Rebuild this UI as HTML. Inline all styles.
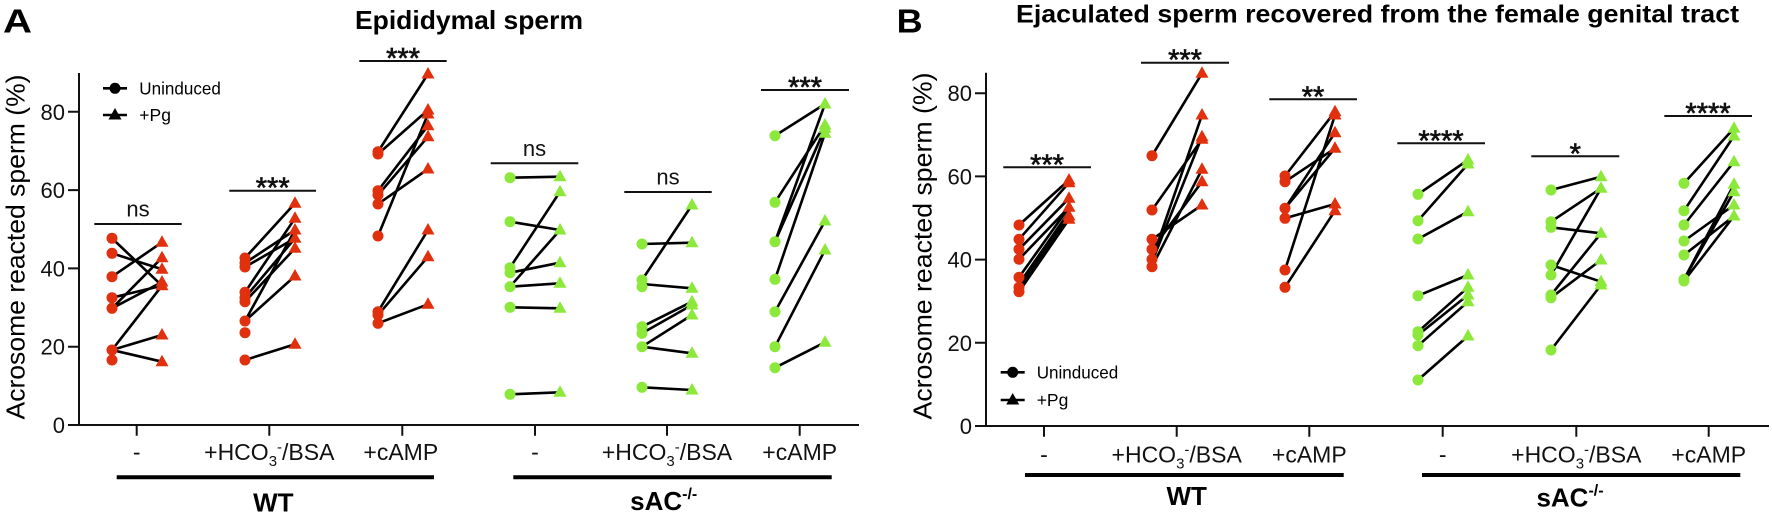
<!DOCTYPE html>
<html><head><meta charset="utf-8"><style>
html,body{margin:0;padding:0;background:#fff;}
svg{display:block;font-family:"Liberation Sans",Arial,sans-serif;}
</style></head><body>
<svg width="1772" height="515" viewBox="0 0 1772 515" xmlns="http://www.w3.org/2000/svg">
<rect width="1772" height="515" fill="#fff"/>

<!-- ================= PANEL A ================= -->
<text x="3" y="32.3" font-size="33" font-weight="bold" textLength="29" lengthAdjust="spacingAndGlyphs">A</text>
<text x="469" y="29" font-size="26" font-weight="bold" text-anchor="middle" textLength="228" lengthAdjust="spacingAndGlyphs">Epididymal sperm</text>
<text transform="translate(24.3,247) rotate(-90)" font-size="26" text-anchor="middle" textLength="345" lengthAdjust="spacingAndGlyphs">Acrosome reacted sperm (%)</text>

<g stroke="#111" stroke-width="2" fill="none">
<path d="M79 73V425H859"/>
<path d="M68 425H79M68 346.7H79M68 268.4H79M68 190.1H79M68 111.8H79"/>
<path d="M136.7 425V435.7M269.3 425V435.7M402.3 425V435.7M535 425V435.7M667 425V435.7M799.7 425V435.7"/>
<path d="M94.3 224H181.7M229.3 190.7H316M359.3 61H446.7M490.7 163.3H578.3M624.3 192H711.7M761 90H849"/>
</g>
<g font-size="22" text-anchor="end" fill="#111">
<text x="65" y="433">0</text><text x="65" y="354.7">20</text><text x="65" y="276.4">40</text><text x="65" y="198.1">60</text><text x="65" y="119.8">80</text>
</g>

<!-- data lines A -->
<path stroke="#000" stroke-width="2.6" fill="none" d="
M112 238.3L162 285.7M112 253.3L162 269.3M112 276.7L162 242.3M112 297.7L162 285.7M112 308.3L162 257.7M112 308.3L162 282M112 350L162 285.7M112 350L162 335M112 350L162 361.7
M245 258L295 203.3M245 263L295 230M245 267L295 238.3M245 292.3L295 218.3M245 297.7L295 238.3M245 301.7L295 248.3M245 321L295 276M245 321L295 230M245 360L295 344.3
M378 151.7L428 74M378 154L428 110M378 190.7L428 125.7M378 195L428 136.7M378 204L428 169M378 236L428 114M378 311.7L428 230M378 315L428 256.7M378 323.3L428 304.3
M510 177.7L560 176.7M510 221.7L560 230M510 267.7L560 191.7M510 272.7L560 262.7M510 286.7L560 230M510 286.7L560 283.3M510 307.3L560 308.3M510 394.3L560 392.3
M642 244L692 242.7M642 280L692 205M642 284L692 288.3M642 326.7L692 301.7M642 333.3L692 305M642 346.7L692 315M642 346.7L692 353.3M642 387.3L692 390
M775 135.7L825 104M775 202.3L825 125M775 241.7L825 104M775 241.7L825 128.3M775 279.3L825 133.3M775 311.7L825 221M775 346.7L825 250M775 367.7L825 342.3"/>

<!-- circles A red -->
<path stroke="#E0300E" stroke-width="11" stroke-linecap="round" fill="none" d="
M112 238.3h0M112 253.3h0M112 276.7h0M112 297.7h0M112 308.3h0M112 350h0M112 360h0
M245 258h0M245 263h0M245 267h0M245 292.3h0M245 297.7h0M245 301.7h0M245 321h0M245 332.7h0M245 360h0
M378 151.7h0M378 154h0M378 190.7h0M378 195h0M378 204h0M378 236h0M378 311.7h0M378 315h0M378 323.3h0"/>
<!-- circles A green -->
<path stroke="#8CE83A" stroke-width="11" stroke-linecap="round" fill="none" d="
M510 177.7h0M510 221.7h0M510 267.7h0M510 272.7h0M510 286.7h0M510 307.3h0M510 394.3h0
M642 244h0M642 280h0M642 286.7h0M642 326.7h0M642 333.3h0M642 346.7h0M642 387.3h0
M775 135.7h0M775 202.3h0M775 241.7h0M775 279.3h0M775 311.7h0M775 346.7h0M775 367.7h0"/>
<!-- triangles A red -->
<path fill="#E0300E" d="
M155.5 246.8h13l-6.5-11.5zM155.5 262.2h13l-6.5-11.5zM155.5 273.8h13l-6.5-11.5zM155.5 286.5h13l-6.5-11.5zM155.5 290.2h13l-6.5-11.5zM155.5 339.5h13l-6.5-11.5zM155.5 366.2h13l-6.5-11.5z
M288.5 207.8h13l-6.5-11.5zM288.5 222.8h13l-6.5-11.5zM288.5 234.5h13l-6.5-11.5zM288.5 242.8h13l-6.5-11.5zM288.5 252.8h13l-6.5-11.5zM288.5 280.5h13l-6.5-11.5zM288.5 348.8h13l-6.5-11.5z
M421.5 78.5h13l-6.5-11.5zM421.5 114.5h13l-6.5-11.5zM421.5 118.5h13l-6.5-11.5zM421.5 130.2h13l-6.5-11.5zM421.5 141.2h13l-6.5-11.5zM421.5 173.5h13l-6.5-11.5zM421.5 234.5h13l-6.5-11.5zM421.5 261.2h13l-6.5-11.5zM421.5 308.8h13l-6.5-11.5z"/>
<!-- triangles A green -->
<path fill="#8CE83A" d="
M553.5 181.2h13l-6.5-11.5zM553.5 196.2h13l-6.5-11.5zM553.5 234.5h13l-6.5-11.5zM553.5 267.2h13l-6.5-11.5zM553.5 287.8h13l-6.5-11.5zM553.5 312.8h13l-6.5-11.5zM553.5 396.8h13l-6.5-11.5z
M685.5 209.5h13l-6.5-11.5zM685.5 247.2h13l-6.5-11.5zM685.5 292.8h13l-6.5-11.5zM685.5 306.2h13l-6.5-11.5zM685.5 309.5h13l-6.5-11.5zM685.5 319.5h13l-6.5-11.5zM685.5 357.8h13l-6.5-11.5zM685.5 394.5h13l-6.5-11.5z
M818.5 108.5h13l-6.5-11.5zM818.5 129.5h13l-6.5-11.5zM818.5 132.8h13l-6.5-11.5zM818.5 137.8h13l-6.5-11.5zM818.5 225.5h13l-6.5-11.5zM818.5 254.5h13l-6.5-11.5zM818.5 346.8h13l-6.5-11.5z"/>

<!-- significance A -->
<g fill="#111" text-anchor="middle">
<text x="138" y="216.7" font-size="22">ns</text>
<text x="272.7" y="197.7" font-size="29" stroke="#111" stroke-width="0.7">***</text>
<text x="403" y="68" font-size="29" stroke="#111" stroke-width="0.7">***</text>
<text x="534.5" y="156" font-size="22">ns</text>
<text x="668" y="184.7" font-size="22">ns</text>
<text x="805" y="97" font-size="29" stroke="#111" stroke-width="0.7">***</text>
</g>

<!-- legend A -->
<path d="M103 88.3H127M103 115H127" stroke="#000" stroke-width="2.6"/>
<circle cx="115" cy="88.3" r="5.5" fill="#000"/>
<path d="M108.5 119.5h13l-6.5-11.5z" fill="#000"/>
<text x="139.3" y="94.3" font-size="17.5" textLength="81.5" lengthAdjust="spacingAndGlyphs">Uninduced</text>
<text x="139.3" y="121" font-size="17.5">+Pg</text>

<!-- x labels A -->
<g font-size="23" text-anchor="middle" fill="#111">
<text x="136.7" y="460">-</text>
<text x="269.3" y="460">+HCO<tspan font-size="15" dy="6">3</tspan><tspan font-size="15" dy="-14">-</tspan><tspan dy="8">/BSA</tspan></text>
<text x="400.8" y="460">+cAMP</text>
<text x="535" y="460">-</text>
<text x="667" y="460">+HCO<tspan font-size="15" dy="6">3</tspan><tspan font-size="15" dy="-14">-</tspan><tspan dy="8">/BSA</tspan></text>
<text x="799.7" y="460">+cAMP</text>
</g>
<path d="M116.7 477.3H434M513.3 477.3H831.7" stroke="#000" stroke-width="4"/>
<text x="273.3" y="511.7" font-size="26" font-weight="bold" text-anchor="middle">WT</text>
<text x="663.7" y="510" font-size="26" font-weight="bold" text-anchor="middle">sAC<tspan font-size="16" dy="-11">-/-</tspan></text>

<!-- ================= PANEL B ================= -->
<text x="896.7" y="32.3" font-size="33" font-weight="bold" textLength="26" lengthAdjust="spacingAndGlyphs">B</text>
<text x="1016" y="22.7" font-size="25" font-weight="bold" textLength="723" lengthAdjust="spacingAndGlyphs">Ejaculated sperm recovered from the female genital tract</text>
<text transform="translate(931.7,246) rotate(-90)" font-size="26" text-anchor="middle" textLength="347" lengthAdjust="spacingAndGlyphs">Acrosome reacted sperm (%)</text>

<g stroke="#111" stroke-width="2" fill="none">
<path d="M986 72.7V426H1769"/>
<path d="M975 426H986M975 342.8H986M975 259.6H986M975 176.4H986M975 93.2H986"/>
<path d="M1044 426V436.7M1176.7 426V436.7M1309.3 426V436.7M1442.7 426V436.7M1576.3 426V436.7M1708.7 426V436.7"/>
<path d="M1003.3 167.3H1091M1141 62.7H1229M1269.3 99.3H1357M1397.3 143.3H1485M1531.3 156.3H1619.3M1664.3 116H1752"/>
</g>
<g font-size="22" text-anchor="end" fill="#111">
<text x="972" y="434">0</text><text x="972" y="350.8">20</text><text x="972" y="267.6">40</text><text x="972" y="184.4">60</text><text x="972" y="101.2">80</text>
</g>

<path stroke="#000" stroke-width="2.6" fill="none" d="
M1019 225L1069 180M1019 239.3L1069 182.7M1019 249.3L1069 198.3M1019 259.3L1069 207.3M1019 277.3L1069 207.3M1019 284L1069 212M1019 287.3L1069 216M1019 291.7L1069 219.3
M1152 155.7L1202 73.3M1152 210L1202 139.3M1152 239.3L1202 205M1152 249.3L1202 181.7M1152 259.3L1202 115M1152 262L1202 136.7M1152 266.7L1202 169.3
M1285 176L1335 111.7M1285 181.7L1335 148.3M1285 208.3L1335 132.7M1285 208.3L1335 148.3M1285 218.3L1335 204M1285 270L1335 115M1285 287.3L1335 210.7
M1418 194.3L1468 160M1418 220.7L1468 164M1418 239L1468 211.7M1418 295.7L1468 275M1418 331.7L1468 287.3M1418 335L1468 295M1418 345.7L1468 301.7M1418 380L1468 336
M1551 190L1601 176.7M1551 221.7L1601 188.3M1551 227.3L1601 233.3M1551 275L1601 188.3M1551 265L1601 281.7M1551 295L1601 233.3M1551 297.7L1601 260M1551 350L1601 285
M1684 183.3L1734 128.3M1684 210.7L1734 136M1684 225L1734 161.7M1684 241L1734 205M1684 255L1734 216M1684 279.3L1734 184.3M1684 279.3L1734 191.7M1684 281L1734 216"/>

<path stroke="#E0300E" stroke-width="11" stroke-linecap="round" fill="none" d="
M1019 225h0M1019 239.3h0M1019 249.3h0M1019 259.3h0M1019 277.3h0M1019 287.3h0M1019 291.7h0
M1152 155.7h0M1152 210h0M1152 239.3h0M1152 249.3h0M1152 259.3h0M1152 266.7h0
M1285 176h0M1285 181.7h0M1285 208.3h0M1285 218.3h0M1285 270h0M1285 287.3h0"/>
<path stroke="#8CE83A" stroke-width="11" stroke-linecap="round" fill="none" d="
M1418 194.3h0M1418 220.7h0M1418 239h0M1418 295.7h0M1418 331.7h0M1418 335h0M1418 345.7h0M1418 380h0
M1551 190h0M1551 221.7h0M1551 227.3h0M1551 265h0M1551 275h0M1551 295h0M1551 297.7h0M1551 350h0
M1684 183.3h0M1684 210.7h0M1684 225h0M1684 241h0M1684 255h0M1684 279.3h0M1684 281h0"/>
<path fill="#E0300E" d="
M1062.5 184.5h13l-6.5-11.5zM1062.5 187.2h13l-6.5-11.5zM1062.5 202.8h13l-6.5-11.5zM1062.5 211.8h13l-6.5-11.5zM1062.5 220.5h13l-6.5-11.5zM1062.5 223.8h13l-6.5-11.5z
M1195.5 77.8h13l-6.5-11.5zM1195.5 119.5h13l-6.5-11.5zM1195.5 141.2h13l-6.5-11.5zM1195.5 143.8h13l-6.5-11.5zM1195.5 173.8h13l-6.5-11.5zM1195.5 186.2h13l-6.5-11.5zM1195.5 209.5h13l-6.5-11.5z
M1328.5 116.2h13l-6.5-11.5zM1328.5 119.5h13l-6.5-11.5zM1328.5 137.2h13l-6.5-11.5zM1328.5 152.8h13l-6.5-11.5zM1328.5 208.5h13l-6.5-11.5zM1328.5 215.2h13l-6.5-11.5z"/>
<path fill="#8CE83A" d="
M1461.5 164.5h13l-6.5-11.5zM1461.5 168.5h13l-6.5-11.5zM1461.5 216.2h13l-6.5-11.5zM1461.5 279.5h13l-6.5-11.5zM1461.5 291.8h13l-6.5-11.5zM1461.5 299.5h13l-6.5-11.5zM1461.5 306.2h13l-6.5-11.5zM1461.5 340.5h13l-6.5-11.5z
M1594.5 181.2h13l-6.5-11.5zM1594.5 192.8h13l-6.5-11.5zM1594.5 237.8h13l-6.5-11.5zM1594.5 264.5h13l-6.5-11.5zM1594.5 286.2h13l-6.5-11.5zM1594.5 289.5h13l-6.5-11.5z
M1727.5 132.8h13l-6.5-11.5zM1727.5 140.5h13l-6.5-11.5zM1727.5 166.2h13l-6.5-11.5zM1727.5 188.8h13l-6.5-11.5zM1727.5 196.2h13l-6.5-11.5zM1727.5 209.5h13l-6.5-11.5zM1727.5 220.5h13l-6.5-11.5z"/>

<g fill="#111" text-anchor="middle" font-size="29" stroke="#111" stroke-width="0.7">
<text x="1047" y="174.3">***</text>
<text x="1185" y="69.7">***</text>
<text x="1313" y="106.3">**</text>
<text x="1441" y="150.3">****</text>
<text x="1575.3" y="163.3">*</text>
<text x="1708" y="123">****</text>
</g>

<!-- legend B -->
<path d="M1000.7 372.3H1024.7M1000.7 400H1024.7" stroke="#000" stroke-width="2.6"/>
<circle cx="1012.7" cy="372.3" r="5.5" fill="#000"/>
<path d="M1006.2 404.5h13l-6.5-11.5z" fill="#000"/>
<text x="1036.7" y="378.3" font-size="17.5" textLength="81.5" lengthAdjust="spacingAndGlyphs">Uninduced</text>
<text x="1036.7" y="406" font-size="17.5">+Pg</text>

<g font-size="23" text-anchor="middle" fill="#111">
<text x="1044" y="462.7">-</text>
<text x="1176.7" y="462.7">+HCO<tspan font-size="15" dy="6">3</tspan><tspan font-size="15" dy="-14">-</tspan><tspan dy="8">/BSA</tspan></text>
<text x="1309.3" y="462.7">+cAMP</text>
<text x="1442.7" y="462.7">-</text>
<text x="1576.3" y="462.7">+HCO<tspan font-size="15" dy="6">3</tspan><tspan font-size="15" dy="-14">-</tspan><tspan dy="8">/BSA</tspan></text>
<text x="1708.7" y="462.7">+cAMP</text>
</g>
<path d="M1025 475H1343.7M1422 475H1740.3" stroke="#000" stroke-width="4"/>
<text x="1186.7" y="505" font-size="26" font-weight="bold" text-anchor="middle">WT</text>
<text x="1570" y="506.7" font-size="26" font-weight="bold" text-anchor="middle">sAC<tspan font-size="16" dy="-11">-/-</tspan></text>
</svg>
</body></html>
